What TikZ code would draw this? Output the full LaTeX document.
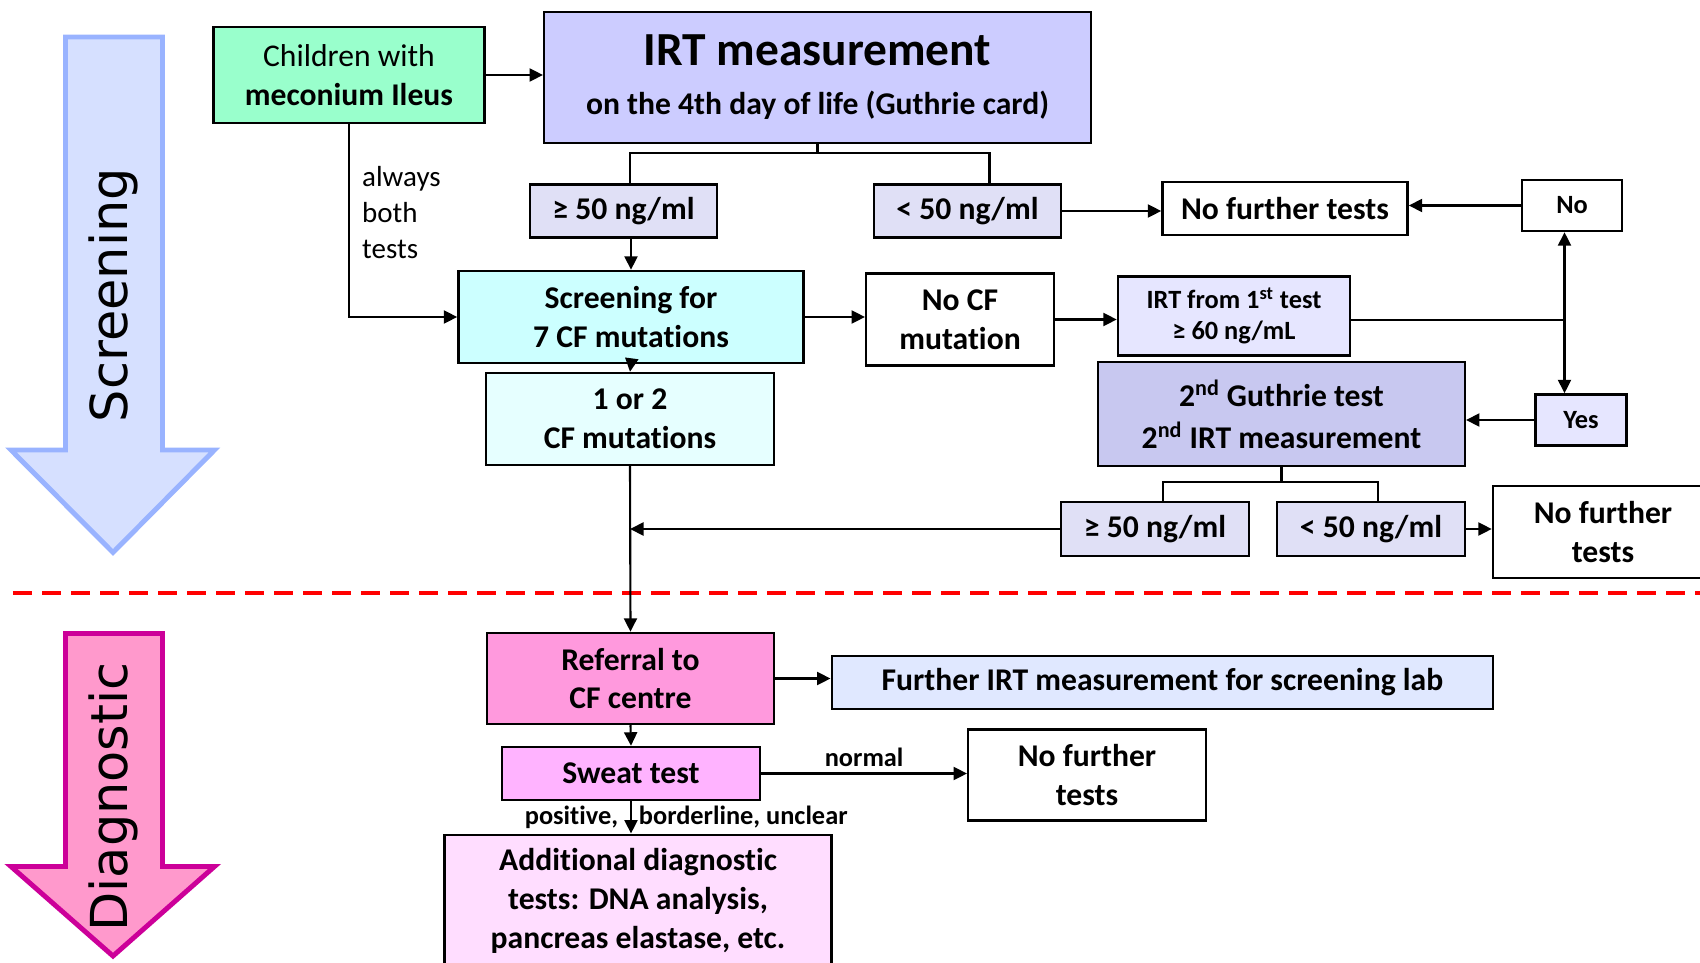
\documentclass[tikz,border=0pt]{standalone}
\usepackage{fontspec}
\setmainfont{Carlito}[Ligatures=NoCommon]
\newfontfamily\phasefont{DejaVu Sans}
\usetikzlibrary{arrows.meta}

\definecolor{scrline}{HTML}{99B3FF}
\definecolor{scrfill}{HTML}{D6E0FF}
\definecolor{diagline}{HTML}{CC0099}
\definecolor{diagfill}{HTML}{FF99CC}
\definecolor{mecgreen}{HTML}{99FFCC}
\definecolor{irtfill}{HTML}{CCCCFF}
\definecolor{cutfill}{HTML}{E0E0F6}
\definecolor{screenfill}{HTML}{CCFFFF}
\definecolor{mutfill}{HTML}{E6FFFF}
\definecolor{lightlav}{HTML}{E6E6FF}
\definecolor{gutfill}{HTML}{C8C8F0}
\definecolor{reffill}{HTML}{FF99DD}
\definecolor{firtfill}{HTML}{E0E8FF}
\definecolor{sweatfill}{HTML}{FFB3FF}
\definecolor{addfill}{HTML}{FFDDFF}

\begin{document}
\begin{tikzpicture}
    \useasboundingbox (0,0) rectangle (34.0,-19.26);

    % phase arrows
    \draw[scrline, fill=scrfill, line width=2.8pt] (1.31,-0.74) -- (3.25,-0.74) -- (3.25,-9.00) -- (4.29,-9.00) -- (2.26,-11.05) -- (0.22,-9.00) -- (1.31,-9.00) -- cycle;
    \draw[diagline, fill=diagfill, line width=2.8pt] (1.31,-12.67) -- (3.25,-12.67) -- (3.25,-17.33) -- (4.29,-17.33) -- (2.26,-19.12) -- (0.22,-17.33) -- (1.31,-17.33) -- cycle;
    \node[rotate=90, font=\phasefont\fontsize{29}{34}\selectfont] (screening) at (2.26,-5.90) {Screening};
    \node[rotate=90, font=\phasefont\fontsize{29}{34}\selectfont] (diagnostic) at (2.26,-15.94) {Diagnostic};

    \draw[red, line width=2.6pt, dash pattern=on 0.38cm off 0.2cm] (0.26,-11.86) -- (34.0,-11.86);

    \begin{scope}[every node/.style={draw, line width=1.4pt, align=center, inner sep=2pt,
                                     font=\bfseries\fontsize{18}{22}\selectfont}]
        \node[fill=mecgreen, minimum width=5.42cm, minimum height=1.91cm] (child) at (6.98,-1.50) {{\mdseries Children with}\\meconium Ileus};
        \node[fill=irtfill, minimum width=10.93cm, minimum height=2.62cm] (irt) at (16.35,-1.55) {{\fontsize{27}{32}\selectfont IRT measurement}\\[6pt]on the 4th day of life (Guthrie card)};
        \node[fill=cutfill, minimum width=3.73cm, minimum height=1.06cm] (hi1) at (12.47,-4.22) {≥ 50 ng/ml};
        \node[fill=cutfill, minimum width=3.75cm, minimum height=1.06cm] (lo1) at (19.35,-4.22) {< 50 ng/ml};
        \node[fill=white, minimum width=4.90cm, minimum height=1.06cm] (nft1) at (25.70,-4.17) {No further tests};
        \node[fill=white, minimum width=2.00cm, minimum height=1.02cm, font=\bfseries\fontsize{15}{18}\selectfont] (no) at (31.44,-4.11) {No};
        \node[fill=screenfill, minimum width=6.90cm, minimum height=1.84cm] (scr) at (12.62,-6.34) {Screening for\\7 CF mutations};
        \node[fill=white, minimum width=3.75cm, minimum height=1.84cm] (nocf) at (19.20,-6.39) {No CF\\mutation};
        \node[fill=lightlav, minimum width=4.64cm, minimum height=1.58cm, font=\bfseries\fontsize{15}{18}\selectfont] (irt1) at (24.68,-6.32) {IRT from 1\textsuperscript{st} test\\≥ 60 ng/mL};
        \node[fill=lightlav, minimum width=1.82cm, minimum height=1.02cm, font=\bfseries\fontsize{15}{18}\selectfont] (yes) at (31.62,-8.40) {Yes};
        \node[fill=gutfill, minimum width=7.33cm, minimum height=2.08cm] (gut2) at (25.63,-8.28) {2\textsuperscript{nd} Guthrie test\\[2pt]2\textsuperscript{nd} IRT measurement};
        \node[fill=mutfill, minimum width=5.77cm, minimum height=1.84cm] (one2) at (12.60,-8.38) {1 or 2\\CF mutations};
        \node[fill=cutfill, minimum width=3.75cm, minimum height=1.08cm] (hi2) at (23.10,-10.58) {≥ 50 ng/ml};
        \node[fill=cutfill, minimum width=3.75cm, minimum height=1.08cm] (lo2) at (27.42,-10.58) {< 50 ng/ml};
        \node[fill=white, minimum width=4.40cm, minimum height=1.84cm] (nft2) at (32.06,-10.64) {No further\\tests};
        \node[fill=reffill, minimum width=5.75cm, minimum height=1.82cm] (ref) at (12.61,-13.57) {Referral to\\CF centre};
        \node[fill=firtfill, minimum width=13.23cm, minimum height=1.06cm] (firt) at (23.25,-13.65) {Further IRT measurement for screening lab};
        \node[fill=sweatfill, minimum width=5.16cm, minimum height=1.06cm] (sweat) at (12.62,-15.47) {Sweat test};
        \node[fill=white, minimum width=4.75cm, minimum height=1.82cm] (nft3) at (21.74,-15.50) {No further\\tests};
        \node[fill=addfill, minimum width=7.74cm, minimum height=2.65cm] (add) at (12.76,-18.02) {Additional diagnostic\\tests: DNA analysis,\\pancreas elastase, etc.};
    \end{scope}

    \begin{scope}[>={Triangle[length=2.7mm,width=2.6mm]},
                  every node/.style={font=\bfseries\fontsize{15}{18}\selectfont},
                  every edge/.style={draw=black,line width=1.2pt}]
        \path [->] (child.east) edge (child.east -| irt.west);
        \draw [line width=1.2pt] (irt.south) -- ++(0,-0.17) coordinate (irtsplit);
        \draw [line width=1.2pt] ([xshift=0.13cm]hi1.north) |- (irtsplit) -| ([xshift=0.44cm]lo1.north);
        \path [->] (lo1.east) edge (lo1.east -| nft1.west);
        \path [->] (no.west) edge (no.west -| nft1.east);
        \draw [->, line width=1.2pt] (child.south) |- (scr.west);
        \node[anchor=west, align=left, font=\fontsize{16.5}{20.5}\selectfont] (always) at (7.12,-4.25) {always\\both\\tests};
        \path [->] (scr.north |- hi1.south) edge (scr.north);
        \path [->] (scr.east) edge (scr.east -| nocf.west);
        \path [->] (nocf.east) edge (nocf.east -| irt1.west);
        \coordinate (fork) at (31.29,-6.40);
        \draw [line width=1.2pt] (irt1.east |- fork) -- (fork);
        \path [->] (fork) edge (fork |- no.south);
        \path [->] (fork) edge (fork |- yes.north);
        \path [->] (yes.west) edge (yes.west -| gut2.east);
        \path [->] (scr.south) edge (one2.north);
        \draw [line width=1.2pt] (gut2.south) -- ++(0,-0.30) coordinate (gutsplit);
        \draw [line width=1.2pt] ([xshift=0.16cm]hi2.north) |- (gutsplit) -| ([xshift=0.14cm]lo2.north);
        \path [->] (lo2.east) edge (lo2.east -| nft2.west);
        \path [->] (hi2.west) edge (hi2.west -| one2.south);
        \path [->] (one2.south) edge (ref.north);
        \path [->] (ref.east) edge (ref.east -| firt.west);
        \path [->] (ref.south) edge (sweat.north);
        \path [->] (sweat.east) edge node[above] {normal} (sweat.east -| nft3.west);
        \path [->] (sweat.south) edge node[left, xshift=-0.12cm] {positive,} node[right, xshift=0.02cm] {borderline, unclear} (sweat.south |- add.north);
    \end{scope}
\end{tikzpicture}
\end{document}
